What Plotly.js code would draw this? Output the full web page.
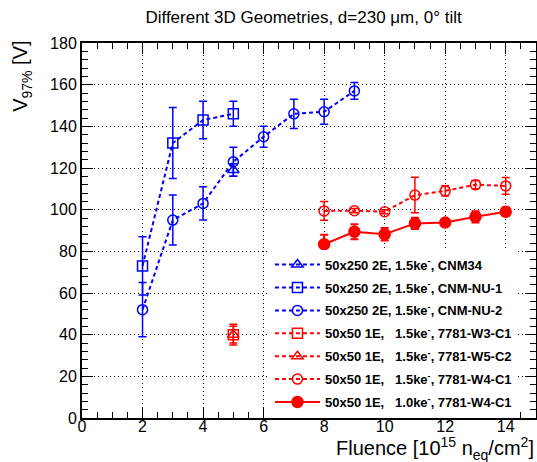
<!DOCTYPE html>
<html>
<head>
<meta charset="utf-8">
<script src="https://cdn.plot.ly/plotly-3.0.1.min.js"></script>
<style>html,body{margin:0;padding:0;background:#fff;}#chart{width:537px;height:462px;}</style>
</head>
<body>
<div id="chart"></div>
<script>
// ---- data ----
const cnm34_x = [5];
const cnm34_y = [119];
const cnm34_e = [3];

const cnmnu1_x = [2, 3, 4, 5];
const cnmnu1_y = [73, 132, 143, 146];
const cnmnu1_e = [14, 17, 9, 6];

const cnmnu2_x = [2, 3, 4, 5, 6, 7, 8, 9];
const cnmnu2_y = [52, 95, 103, 123, 135, 146, 147, 157];
const cnmnu2_e = [13, 12, 8, 7, 5, 7, 6, 4];

const w3c1_x = [5];
const w3c1_y = [40];
const w3c1_e = [5];

const w5c2_x = [5];
const w5c2_y = [40];
const w5c2_e = [4];

const w4c1a_x = [8, 9, 10, 11, 12, 13, 14];
const w4c1a_y = [99.4, 99.5, 99, 107, 109, 112, 111.4];
const w4c1a_e = [4.5, 1, 1, 8.5, 2.5, 2, 4];

const w4c1b_x = [8, 9, 10, 11, 12, 13, 14];
const w4c1b_y = [83.4, 89.4, 88.2, 93.4, 93.8, 96.6, 99];
const w4c1b_e = [4.5, 3.6, 3, 2.7, 1, 2.7, 2];

const names = [
  "50x250 2E, 1.5ke<sup>-</sup>, CNM34",
  "50x250 2E, 1.5ke<sup>-</sup>, CNM-NU-1",
  "50x250 2E, 1.5ke<sup>-</sup>, CNM-NU-2",
  "50x50 1E,\u00a0\u00a0\u00a01.5ke<sup>-</sup>, 7781-W3-C1",
  "50x50 1E,\u00a0\u00a0\u00a01.5ke<sup>-</sup>, 7781-W5-C2",
  "50x50 1E,\u00a0\u00a0\u00a01.5ke<sup>-</sup>, 7781-W4-C1",
  "50x50 1E,\u00a0\u00a0\u00a01.0ke<sup>-</sup>, 7781-W4-C1"
];

const BLUE = "#0000ff", RED = "#ff0000";
const DASH = "4px,3px";

function tr(x, y, e, name, color, symbol, size, dash, grp, thick) {
  return {
    type: "scatter", mode: "lines+markers", x: x, y: y, name: name,
    legendgroup: grp,
    line: {color: color, width: 2, dash: dash},
    marker: {symbol: symbol, size: size, color: color, line: {color: color, width: 1.5}},
    error_y: {type: "data", array: e, visible: true, color: color, thickness: thick, width: 4},
    cliponaxis: false
  };
}

const data = [
  tr(cnm34_x, cnm34_y, cnm34_e, names[0], BLUE, "triangle-up-open", 10, DASH, "g0", 1.5),
  tr(cnmnu1_x, cnmnu1_y, cnmnu1_e, names[1], BLUE, "square-open", 10, DASH, "g1", 1.5),
  tr(cnmnu2_x, cnmnu2_y, cnmnu2_e, names[2], BLUE, "circle-open", 10, DASH, "g2", 1.5),
  tr(w3c1_x, w3c1_y, w3c1_e, names[3], RED, "square-open", 10, DASH, "g3", 1.5),
  tr(w5c2_x, w5c2_y, w5c2_e, names[4], RED, "triangle-up-open", 10, DASH, "g4", 1.5),
  tr(w4c1a_x, w4c1a_y, w4c1a_e, names[5], RED, "circle-open", 10, DASH, "g5", 1.5),
  tr(w4c1b_x, w4c1b_y, w4c1b_e, names[6], RED, "circle", 11, "solid", "g6", 2)
];

const FONT = "Liberation Sans, Arial, Helvetica, sans-serif";

const axisCommon = {
  showline: true, linecolor: "#000", linewidth: 2, mirror: "allticks",
  ticks: "inside", ticklen: 11, tickwidth: 1, tickcolor: "#000",
  showgrid: true, gridcolor: "#000", gridwidth: 1, griddash: "1px,3px",
  zeroline: false,
  tickfont: {family: FONT, size: 16, color: "#000"}
};

const layout = {
  width: 537, height: 462,
  margin: {l: 82, r: 1, t: 43, b: 43.5},
  paper_bgcolor: "#fff", plot_bgcolor: "#fff",
  font: {family: FONT, color: "#000"},
  showlegend: true,
  title: {
    text: "Different 3D Geometries, d=230 \u03bcm, 0\u00b0 tilt",
    font: {family: FONT, size: 17, color: "#000"},
    xref: "paper", x: 0.488, xanchor: "center",
    yref: "container", y: 1 - 17 / 462, yanchor: "middle"
  },
  xaxis: Object.assign({}, axisCommon, {
    range: [0, 15], dtick: 2, tick0: 0,
    ticklabelposition: "outside", ticklabelstandoff: -7,
    minor: {dtick: 0.5, ticks: "inside", ticklen: 6, tickcolor: "#000", showgrid: false}
  }),
  yaxis: Object.assign({}, axisCommon, {
    range: [0, 180], dtick: 20, tick0: 0,
    minor: {dtick: 4, ticks: "inside", ticklen: 6, tickcolor: "#000", showgrid: false}
  }),
  legend: {
    x: 0.414, y: 0.449, xanchor: "left", yanchor: "top",
    bgcolor: "#fff", borderwidth: 0, itemwidth: 45,
    font: {family: FONT, size: 13, color: "#000", weight: "bold"},
    tracegroupgap: 3, traceorder: "grouped"
  },
  annotations: [
    {
      text: "Fluence [10<sup>15</sup> n<sub>eq</sub>/cm<sup>2</sup>]",
      xref: "paper", yref: "paper", x: 1, y: -0.081,
      xanchor: "right", yanchor: "middle", showarrow: false,
      font: {family: FONT, size: 20, color: "#000"}
    },
    {
      text: "V<sub>97%</sub> [V]",
      xref: "paper", yref: "paper", x: -0.132, y: 1.01,
      xanchor: "center", yanchor: "top", textangle: -90, showarrow: false,
      font: {family: FONT, size: 20, color: "#000"}
    }
  ]
};

Plotly.newPlot("chart", data, layout, {displayModeBar: false, staticPlot: true});
</script>
</body>
</html>
